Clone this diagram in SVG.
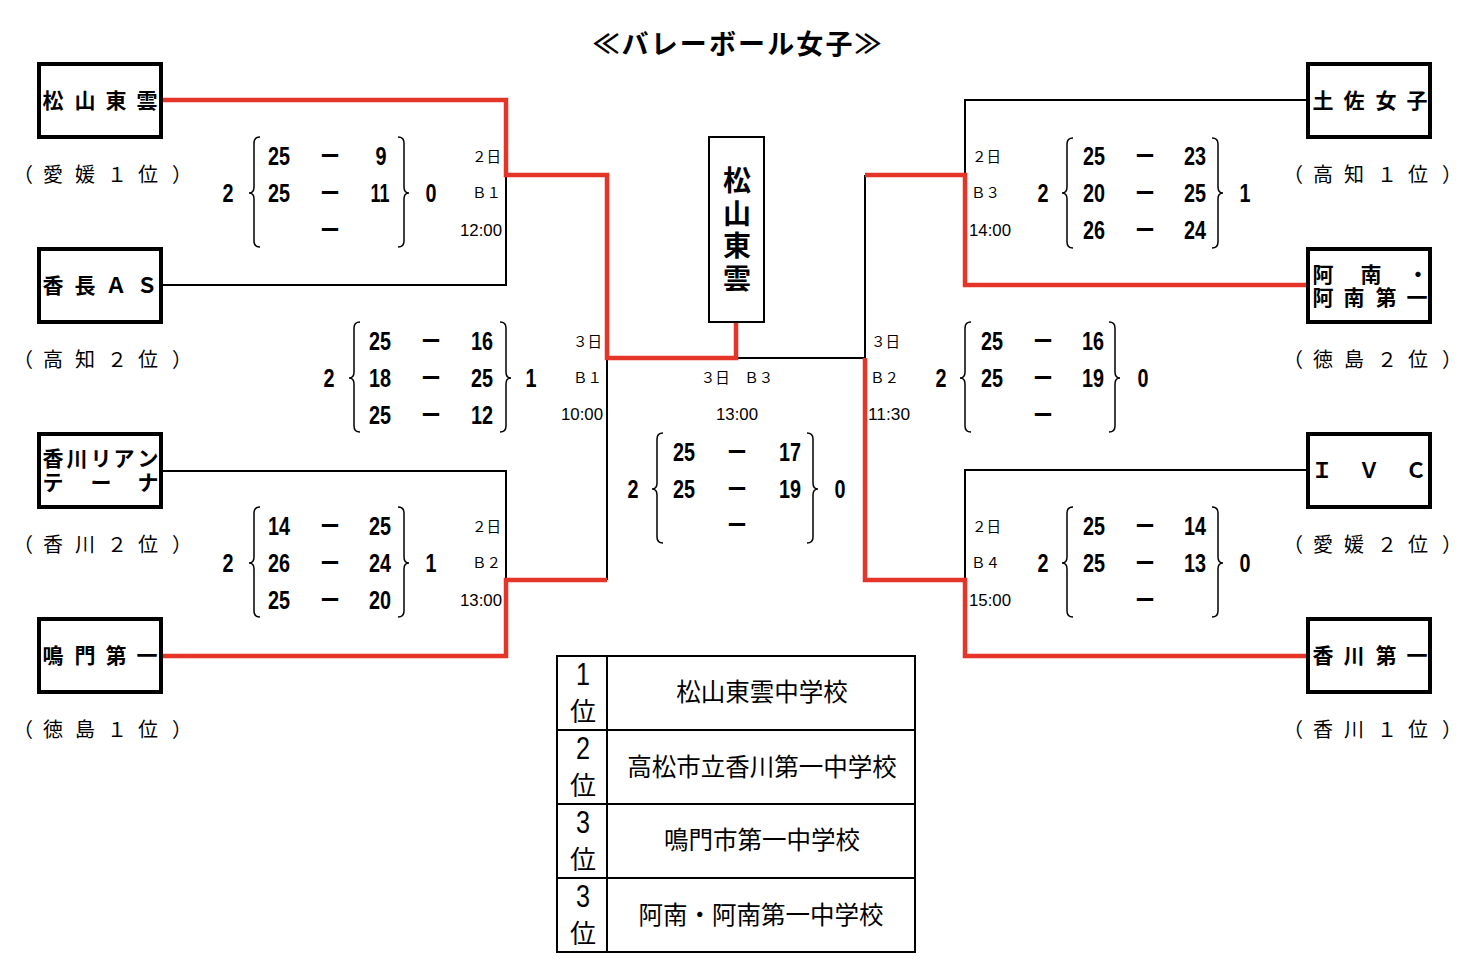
<svg xmlns="http://www.w3.org/2000/svg" width="1474" height="972" viewBox="0 0 1474 972">
<style>
text{font-family:"Noto Sans CJK JP","Noto Sans CJK SC",sans-serif;fill:#000}
.ttl{font-size:27px;font-weight:bold;text-anchor:middle}
.nm{font-size:21px;font-weight:bold;text-anchor:middle}
.sub{font-size:20px;text-anchor:middle}
.sm{font-size:14.5px}
.tm{font-family:"Liberation Sans",Arial,sans-serif;font-size:17px}
.sc{font-family:"Liberation Sans",Arial,sans-serif;font-size:26px;font-weight:bold;text-anchor:middle}
.ds{font-size:20px;font-weight:bold;text-anchor:middle}
.box{fill:#fff;stroke:#000;stroke-width:4}
.cbox{fill:#fff;stroke:#000;stroke-width:2}
.blk{fill:none;stroke:#000;stroke-width:2}
.red{fill:none;stroke:#e53528;stroke-width:4.5;stroke-linejoin:miter}
.br{fill:none;stroke:#000;stroke-width:1.5}
.tb{fill:none;stroke:#000;stroke-width:2}
.tn{font-family:"Liberation Sans",Arial,sans-serif;font-size:31px;text-anchor:middle}
.tp{font-size:26px;text-anchor:middle}
.tx{font-size:24.5px;text-anchor:middle}
.end{text-anchor:end}
.mid{text-anchor:middle}
</style>
<rect width="1474" height="972" fill="#fff"/>
<text class="ttl" x="737" y="54" textLength="289" lengthAdjust="spacing">≪バレーボール女子≫</text>

<g id="connectors">
<polyline class="blk" points="161,285 506,285 506,175"/>
<polyline class="blk" points="161,471 506,471 506,580"/>
<polyline class="blk" points="607,580 607,358"/>
<polyline class="blk" points="736,358 865,358 865,175"/>
<polyline class="blk" points="1308,100 965,100 965,175"/>
<polyline class="blk" points="1308,470 965,470 965,580"/>
<polyline class="red" points="161,100 506,100 506,175 607,175 607,358 736,358 736,322"/>
<polyline class="red" points="161,656 506,656 506,580 607,580"/>
<polyline class="red" points="1308,285 965,285 965,175 865,175"/>
<polyline class="red" points="1308,656 965,656 965,580 865,580 865,358"/>
</g>

<g id="team-matsuyama-toun">
<rect class="box" x="39" y="64" width="122" height="73"/>
<text class="nm" x="53 85 116 147" y="108">松山東雲</text>
<text class="sub" x="23 53 85 117 148 182" y="182">（愛媛１位）</text>
</g>
<g id="team-kacho-as">
<rect class="box" x="39" y="249" width="122" height="73"/>
<text class="nm" x="53 85 116 147" y="293">香長ＡＳ</text>
<text class="sub" x="23 53 85 117 148 182" y="367">（高知２位）</text>
</g>
<g id="team-kagawa-riantena">
<rect class="box" x="39" y="434" width="122" height="73"/>
<text class="nm" x="53 77 101 124 148 53 101 148" y="466 466 466 466 466 490 490 490">香川リアンテーナ</text>
<text class="sub" x="23 53 85 117 148 182" y="552">（香川２位）</text>
</g>
<g id="team-naruto-daiichi">
<rect class="box" x="39" y="619" width="122" height="73"/>
<text class="nm" x="53 85 116 147" y="663">鳴門第一</text>
<text class="sub" x="23 53 85 117 148 182" y="737">（徳島１位）</text>
</g>

<g id="team-tosa-joshi">
<rect class="box" x="1308" y="64" width="122" height="73"/>
<text class="nm" x="1323 1354 1386 1417" y="108">土佐女子</text>
<text class="sub" x="1293 1323 1354 1387 1418 1452" y="182">（高知１位）</text>
</g>
<g id="team-anan">
<rect class="box" x="1308" y="249" width="122" height="73"/>
<text class="nm" x="1323 1371 1418 1323 1354 1386 1417" y="282 282 282 305 305 305 305">阿南・阿南第一</text>
<text class="sub" x="1293 1323 1354 1387 1418 1452" y="367">（徳島２位）</text>
</g>
<g id="team-ivc">
<rect class="box" x="1308" y="434" width="122" height="73"/>
<text class="nm" x="1322 1369 1416" y="478">ＩＶＣ</text>
<text class="sub" x="1293 1323 1354 1387 1418 1452" y="552">（愛媛２位）</text>
</g>
<g id="team-kagawa-daiichi">
<rect class="box" x="1308" y="619" width="122" height="73"/>
<text class="nm" x="1323 1354 1386 1417" y="663">香川第一</text>
<text class="sub" x="1293 1323 1354 1387 1418 1452" y="737">（香川１位）</text>
</g>

<g id="champion">
<rect class="cbox" x="709" y="137" width="55" height="185"/>
<text class="nm" style="font-size:28px" x="737 737 737 737" y="191 224 256 289">松山東雲</text>
</g>

<!-- Left QF1 -->
<g id="match-l-qf1">
<path class="br" d="M260,137 Q254,137 254,143 L254,187 Q254,193 249,193 Q254,193 254,199 L254,241 Q254,247 260,247"/>
<path class="br" d="M398,137 Q404,137 404,143 L404,187 Q404,193 409,193 Q404,193 404,199 L404,241 Q404,247 398,247"/>
<text class="sc" x="228" y="202" textLength="11" lengthAdjust="spacingAndGlyphs">2</text>
<text class="sc" x="431" y="202" textLength="11" lengthAdjust="spacingAndGlyphs">0</text>
<text class="sc" x="279" y="165" textLength="22" lengthAdjust="spacingAndGlyphs">25</text>
<text class="sc" x="279" y="202" textLength="22" lengthAdjust="spacingAndGlyphs">25</text>
<text class="sc" x="381" y="165" textLength="11" lengthAdjust="spacingAndGlyphs">9</text>
<text class="sc" x="380" y="202" textLength="19" lengthAdjust="spacingAndGlyphs">11</text>
<text class="ds" x="330" y="164">ー</text>
<text class="ds" x="330" y="201">ー</text>
<text class="ds" x="330" y="238">ー</text>
<text class="sm end" x="501" y="162">２日</text>
<text class="sm end" x="501" y="198">Ｂ１</text>
<text class="tm end" x="502" y="236" textLength="42" lengthAdjust="spacingAndGlyphs">12:00</text>
</g>

<!-- Left SF -->
<g id="match-l-sf">
<path class="br" d="M360,322 Q354,322 354,328 L354,372 Q354,378 349,378 Q354,378 354,384 L354,426 Q354,432 360,432"/>
<path class="br" d="M500,322 Q506,322 506,328 L506,372 Q506,378 511,378 Q506,378 506,384 L506,426 Q506,432 500,432"/>
<text class="sc" x="329" y="387" textLength="11" lengthAdjust="spacingAndGlyphs">2</text>
<text class="sc" x="531" y="387" textLength="11" lengthAdjust="spacingAndGlyphs">1</text>
<text class="sc" x="380" y="350" textLength="22" lengthAdjust="spacingAndGlyphs">25</text>
<text class="sc" x="380" y="387" textLength="22" lengthAdjust="spacingAndGlyphs">18</text>
<text class="sc" x="380" y="424" textLength="22" lengthAdjust="spacingAndGlyphs">25</text>
<text class="sc" x="482" y="350" textLength="22" lengthAdjust="spacingAndGlyphs">16</text>
<text class="sc" x="482" y="387" textLength="22" lengthAdjust="spacingAndGlyphs">25</text>
<text class="sc" x="482" y="424" textLength="22" lengthAdjust="spacingAndGlyphs">12</text>
<text class="ds" x="431" y="349">ー</text>
<text class="ds" x="431" y="386">ー</text>
<text class="ds" x="431" y="423">ー</text>
<text class="sm end" x="602" y="347">３日</text>
<text class="sm end" x="602" y="383">Ｂ１</text>
<text class="tm end" x="603" y="420" textLength="42" lengthAdjust="spacingAndGlyphs">10:00</text>
</g>

<!-- Left QF2 -->
<g id="match-l-qf2">
<path class="br" d="M260,507 Q254,507 254,513 L254,557 Q254,563 249,563 Q254,563 254,569 L254,611 Q254,617 260,617"/>
<path class="br" d="M398,507 Q404,507 404,513 L404,557 Q404,563 409,563 Q404,563 404,569 L404,611 Q404,617 398,617"/>
<text class="sc" x="228" y="572" textLength="11" lengthAdjust="spacingAndGlyphs">2</text>
<text class="sc" x="431" y="572" textLength="11" lengthAdjust="spacingAndGlyphs">1</text>
<text class="sc" x="279" y="535" textLength="22" lengthAdjust="spacingAndGlyphs">14</text>
<text class="sc" x="279" y="572" textLength="22" lengthAdjust="spacingAndGlyphs">26</text>
<text class="sc" x="279" y="609" textLength="22" lengthAdjust="spacingAndGlyphs">25</text>
<text class="sc" x="380" y="535" textLength="22" lengthAdjust="spacingAndGlyphs">25</text>
<text class="sc" x="380" y="572" textLength="22" lengthAdjust="spacingAndGlyphs">24</text>
<text class="sc" x="380" y="609" textLength="22" lengthAdjust="spacingAndGlyphs">20</text>
<text class="ds" x="330" y="534">ー</text>
<text class="ds" x="330" y="571">ー</text>
<text class="ds" x="330" y="608">ー</text>
<text class="sm end" x="501" y="532">２日</text>
<text class="sm end" x="501" y="568">Ｂ２</text>
<text class="tm end" x="502" y="606" textLength="42" lengthAdjust="spacingAndGlyphs">13:00</text>
</g>

<!-- Final -->
<g id="match-final">
<path class="br" d="M663,433 Q657,433 657,439 L657,483 Q657,489 652,489 Q657,489 657,495 L657,537 Q657,543 663,543"/>
<path class="br" d="M807,433 Q813,433 813,439 L813,483 Q813,489 818,489 Q813,489 813,495 L813,537 Q813,543 807,543"/>
<text class="sc" x="633" y="498" textLength="11" lengthAdjust="spacingAndGlyphs">2</text>
<text class="sc" x="840" y="498" textLength="11" lengthAdjust="spacingAndGlyphs">0</text>
<text class="sc" x="684" y="461" textLength="22" lengthAdjust="spacingAndGlyphs">25</text>
<text class="sc" x="684" y="498" textLength="22" lengthAdjust="spacingAndGlyphs">25</text>
<text class="sc" x="790" y="461" textLength="22" lengthAdjust="spacingAndGlyphs">17</text>
<text class="sc" x="790" y="498" textLength="22" lengthAdjust="spacingAndGlyphs">19</text>
<text class="ds" x="737" y="460">ー</text>
<text class="ds" x="737" y="497">ー</text>
<text class="ds" x="737" y="533">ー</text>
<text class="sm mid" x="737" y="383">３日　Ｂ３</text>
<text class="tm mid" x="737" y="420" textLength="42" lengthAdjust="spacingAndGlyphs">13:00</text>
</g>

<!-- Right QF1 -->
<g id="match-r-qf1">
<path class="br" d="M1073,138 Q1067,138 1067,144 L1067,187 Q1067,193 1062,193 Q1067,193 1067,199 L1067,242 Q1067,248 1073,248"/>
<path class="br" d="M1212,138 Q1218,138 1218,144 L1218,187 Q1218,193 1223,193 Q1218,193 1218,199 L1218,242 Q1218,248 1212,248"/>
<text class="sc" x="1043" y="202" textLength="11" lengthAdjust="spacingAndGlyphs">2</text>
<text class="sc" x="1245" y="202" textLength="11" lengthAdjust="spacingAndGlyphs">1</text>
<text class="sc" x="1094" y="165" textLength="22" lengthAdjust="spacingAndGlyphs">25</text>
<text class="sc" x="1094" y="202" textLength="22" lengthAdjust="spacingAndGlyphs">20</text>
<text class="sc" x="1094" y="239" textLength="22" lengthAdjust="spacingAndGlyphs">26</text>
<text class="sc" x="1195" y="165" textLength="22" lengthAdjust="spacingAndGlyphs">23</text>
<text class="sc" x="1195" y="202" textLength="22" lengthAdjust="spacingAndGlyphs">25</text>
<text class="sc" x="1195" y="239" textLength="22" lengthAdjust="spacingAndGlyphs">24</text>
<text class="ds" x="1145" y="164">ー</text>
<text class="ds" x="1145" y="201">ー</text>
<text class="ds" x="1145" y="238">ー</text>
<text class="sm" x="972" y="162">２日</text>
<text class="sm" x="971" y="198">Ｂ３</text>
<text class="tm" x="969" y="236" textLength="42" lengthAdjust="spacingAndGlyphs">14:00</text>
</g>

<!-- Right SF -->
<g id="match-r-sf">
<path class="br" d="M971,322 Q965,322 965,328 L965,372 Q965,378 960,378 Q965,378 965,384 L965,426 Q965,432 971,432"/>
<path class="br" d="M1109,322 Q1115,322 1115,328 L1115,372 Q1115,378 1120,378 Q1115,378 1115,384 L1115,426 Q1115,432 1109,432"/>
<text class="sc" x="941" y="387" textLength="11" lengthAdjust="spacingAndGlyphs">2</text>
<text class="sc" x="1143" y="387" textLength="11" lengthAdjust="spacingAndGlyphs">0</text>
<text class="sc" x="992" y="350" textLength="22" lengthAdjust="spacingAndGlyphs">25</text>
<text class="sc" x="992" y="387" textLength="22" lengthAdjust="spacingAndGlyphs">25</text>
<text class="sc" x="1093" y="350" textLength="22" lengthAdjust="spacingAndGlyphs">16</text>
<text class="sc" x="1093" y="387" textLength="22" lengthAdjust="spacingAndGlyphs">19</text>
<text class="ds" x="1043" y="349">ー</text>
<text class="ds" x="1043" y="386">ー</text>
<text class="ds" x="1043" y="423">ー</text>
<text class="sm" x="871" y="347">３日</text>
<text class="sm" x="870" y="383">Ｂ２</text>
<text class="tm" x="868" y="420" textLength="42" lengthAdjust="spacingAndGlyphs">11:30</text>
</g>

<!-- Right QF2 -->
<g id="match-r-qf2">
<path class="br" d="M1073,507 Q1067,507 1067,513 L1067,557 Q1067,563 1062,563 Q1067,563 1067,569 L1067,611 Q1067,617 1073,617"/>
<path class="br" d="M1212,507 Q1218,507 1218,513 L1218,557 Q1218,563 1223,563 Q1218,563 1218,569 L1218,611 Q1218,617 1212,617"/>
<text class="sc" x="1043" y="572" textLength="11" lengthAdjust="spacingAndGlyphs">2</text>
<text class="sc" x="1245" y="572" textLength="11" lengthAdjust="spacingAndGlyphs">0</text>
<text class="sc" x="1094" y="535" textLength="22" lengthAdjust="spacingAndGlyphs">25</text>
<text class="sc" x="1094" y="572" textLength="22" lengthAdjust="spacingAndGlyphs">25</text>
<text class="sc" x="1195" y="535" textLength="22" lengthAdjust="spacingAndGlyphs">14</text>
<text class="sc" x="1195" y="572" textLength="22" lengthAdjust="spacingAndGlyphs">13</text>
<text class="ds" x="1145" y="534">ー</text>
<text class="ds" x="1145" y="571">ー</text>
<text class="ds" x="1145" y="608">ー</text>
<text class="sm" x="972" y="532">２日</text>
<text class="sm" x="971" y="568">Ｂ４</text>
<text class="tm" x="969" y="606" textLength="42" lengthAdjust="spacingAndGlyphs">15:00</text>
</g>

<g id="ranking-table">
<rect class="tb" x="557" y="656" width="358" height="296"/>
<line class="tb" x1="557" y1="730" x2="915" y2="730"/>
<line class="tb" x1="557" y1="804" x2="915" y2="804"/>
<line class="tb" x1="557" y1="878" x2="915" y2="878"/>
<line class="tb" x1="607" y1="656" x2="607" y2="952"/>
<text class="tn" x="583" y="685" textLength="14" lengthAdjust="spacingAndGlyphs">1</text>
<text class="tp" x="583" y="721">位</text>
<text class="tn" x="583" y="759" textLength="14" lengthAdjust="spacingAndGlyphs">2</text>
<text class="tp" x="583" y="795">位</text>
<text class="tn" x="583" y="833" textLength="14" lengthAdjust="spacingAndGlyphs">3</text>
<text class="tp" x="583" y="869">位</text>
<text class="tn" x="583" y="907" textLength="14" lengthAdjust="spacingAndGlyphs">3</text>
<text class="tp" x="583" y="943">位</text>
<text class="tx" x="762" y="701">松山東雲中学校</text>
<text class="tx" x="762" y="776">高松市立香川第一中学校</text>
<text class="tx" x="762" y="849">鳴門市第一中学校</text>
<text class="tx" x="761" y="924">阿南・阿南第一中学校</text>
</g>
</svg>
